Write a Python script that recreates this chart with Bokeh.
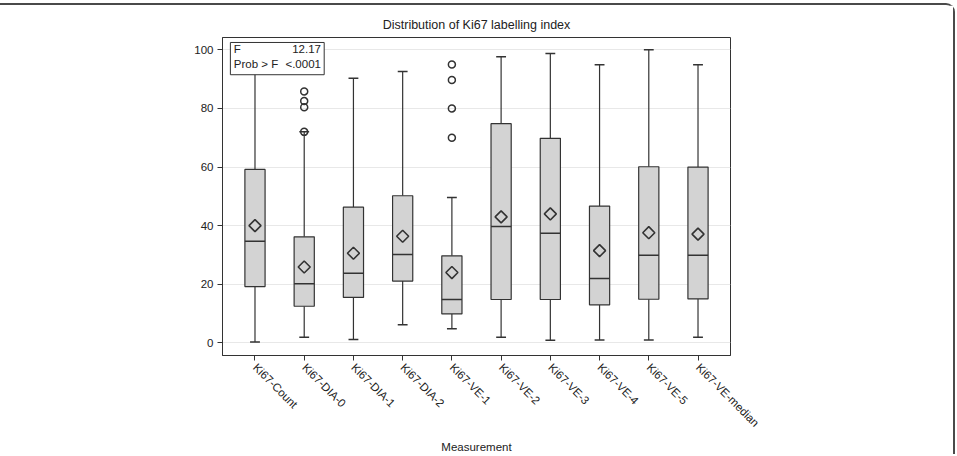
import math
from bokeh.plotting import figure
from bokeh.models import FactorRange, BoxAnnotation, Label, ColumnDataSource, FixedTicker
from bokeh.embed import file_html
from bokeh.resources import INLINE

categories = ["Ki67-Count", "Ki67-DIA-0", "Ki67-DIA-1", "Ki67-DIA-2", "Ki67-VE-1",
              "Ki67-VE-2", "Ki67-VE-3", "Ki67-VE-4", "Ki67-VE-5", "Ki67-VE-median"]
whisker_low = [0.3, 1.9, 1.2, 6.2, 4.8, 1.9, 0.9, 1.0, 1.0, 1.9]
q1 = [19.2, 12.5, 15.5, 21.1, 9.9, 14.8, 14.8, 13.0, 14.9, 15.0]
median = [34.7, 20.2, 23.8, 30.2, 14.8, 39.7, 37.4, 22.0, 29.9, 29.9]
q3 = [59.2, 36.2, 46.3, 50.2, 29.7, 74.8, 69.8, 46.7, 60.1, 60.0]
whisker_high = [100.0, 72.0, 90.3, 92.6, 49.6, 97.6, 98.7, 94.9, 100.0, 94.9]
mean = [40.0, 25.9, 30.6, 36.4, 24.0, 43.0, 44.0, 31.5, 37.6, 37.1]
outlier_cat = ["Ki67-DIA-0", "Ki67-DIA-0", "Ki67-DIA-0", "Ki67-DIA-0",
               "Ki67-VE-1", "Ki67-VE-1", "Ki67-VE-1", "Ki67-VE-1"]
outlier_val = [72.0, 80.4, 82.5, 85.8, 70.0, 80.0, 89.7, 95.0]
y_ticks = [0, 20, 40, 60, 80, 100]
f_value = "12.17"
p_value = "<.0001"

FONT = "Liberation Sans"
DARK = "#333333"

src = ColumnDataSource(dict(cat=categories, lo=whisker_low, q1=q1, med=median,
                            q3=q3, hi=whisker_high, mean=mean))

# canvas 955x451 + 3px top margin + 2px top border + 2px right border = 957x456
p = figure(width=955, height=451, output_backend="svg", toolbar_location=None,
           x_range=FactorRange(factors=categories, range_padding=0.16,
                               range_padding_units="absolute"),
           y_range=(-4.3, 104.2),
           title="Distribution of Ki67 labelling index",
           min_border_left=222, min_border_right=225, min_border_top=32,
           min_border_bottom=101)
p.styles = {"margin-top": "3px", "border-top": "2px solid #4a4a4a",
            "border-right": "2px solid #4a4a4a", "border-top-right-radius": "9px"}

p.title.align = "center"
p.title.text_font = FONT
p.title.text_font_size = "12.5px"
p.title.text_font_style = "normal"
p.title.text_color = "#222222"
p.title.standoff = 12

p.outline_line_color = DARK
p.outline_line_width = 1
p.xgrid.grid_line_color = None
p.ygrid.grid_line_color = "#e8e8e8"
p.yaxis.ticker = FixedTicker(ticks=y_ticks)

for ax in (p.xaxis[0], p.yaxis[0]):
    ax.axis_line_color = DARK
    ax.major_tick_line_color = DARK
    ax.major_tick_out = 5
    ax.major_tick_in = 0
    ax.minor_tick_line_color = None
    ax.major_label_text_font = FONT
    ax.major_label_text_color = "#222222"

p.xaxis.major_label_text_font_size = "11.5px"
p.yaxis.major_label_text_font_size = "11.5px"
p.xaxis.major_label_orientation = -math.pi / 4
p.xaxis.major_label_standoff = 5
p.xaxis.axis_label = "Measurement"
p.xaxis.axis_label_text_font = FONT
p.xaxis.axis_label_text_font_size = "11.5px"
p.xaxis.axis_label_text_font_style = "normal"
p.xaxis.axis_label_text_color = "#222222"
p.xaxis.axis_label_standoff = 5
p.yaxis.major_label_standoff = 4

# whisker stems
p.segment(x0="cat", y0="lo", x1="cat", y1="q1", source=src, line_color=DARK, line_width=1.2)
p.segment(x0="cat", y0="q3", x1="cat", y1="hi", source=src, line_color=DARK, line_width=1.2)
# caps
p.rect(x="cat", y="lo", width=0.2, height=1.5, height_units="screen", source=src,
       fill_color=DARK, line_color=None)
p.rect(x="cat", y="hi", width=0.2, height=1.5, height_units="screen", source=src,
       fill_color=DARK, line_color=None)
# boxes
p.vbar(x="cat", width=0.41, bottom="q1", top="q3", source=src,
       fill_color="#d3d3d3", line_color=DARK, line_width=1.2)
# medians
p.rect(x="cat", y="med", width=0.41, height=1.5, height_units="screen", source=src,
       fill_color=DARK, line_color=None)
# means
p.scatter(x="cat", y="mean", marker="square", angle=math.pi / 4, size=8.5, source=src,
          fill_color=None, line_color=DARK, line_width=1.6)
# outliers
p.scatter(x=outlier_cat, y=outlier_val, marker="circle", size=7,
          fill_color=None, line_color=DARK, line_width=1.5)

# inset statistics box
p.add_layout(BoxAnnotation(left=0.0, right=1.906, top=102.5, bottom=91.5,
                           fill_color="white", fill_alpha=1.0,
                           line_color=DARK, line_width=1, line_alpha=1.0))
for txt, x, y, align in [("F", 0.07, 100.3, "left"), (f_value, 1.84, 100.3, "right"),
                         ("Prob > F", 0.07, 95.1, "left"), (p_value, 1.84, 95.1, "right")]:
    p.add_layout(Label(x=x, y=y, text=txt, text_align=align, text_baseline="middle",
                       text_font=FONT, text_font_size="11.5px", text_color="#222222"))

open("out.html", "w").write(file_html(p, INLINE))
